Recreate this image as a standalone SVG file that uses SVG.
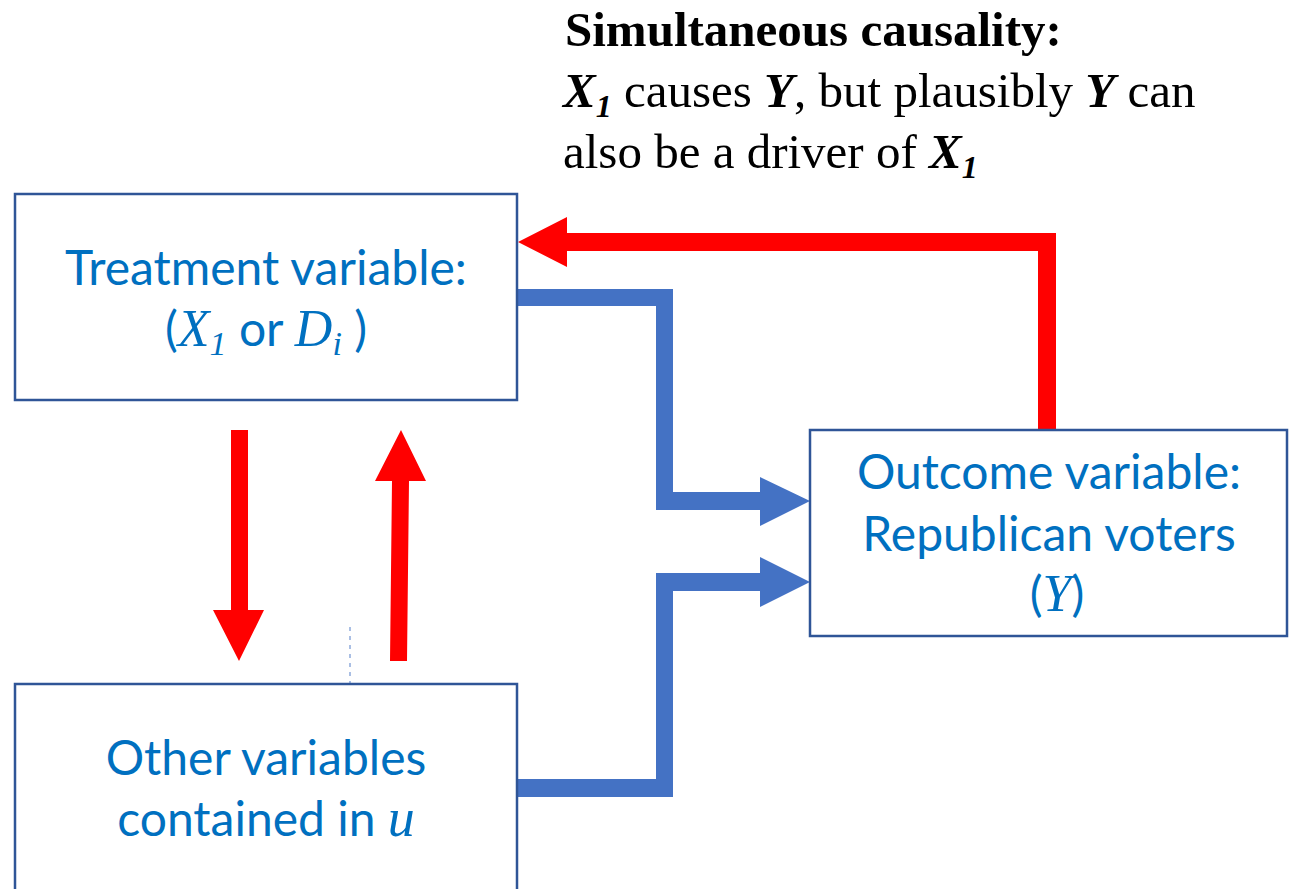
<svg xmlns="http://www.w3.org/2000/svg" width="1290" height="889" viewBox="0 0 1290 889">
  <style>
    .box { fill: #ffffff; stroke: #2F5597; stroke-width: 2.5; }
    .lbl { font-family: Lato, "Liberation Sans", sans-serif; font-size: 48px; fill: #0070C0; text-anchor: middle; }
    .m { font-family: "Liberation Serif", serif; font-style: italic; }
    .note { font-family: "Liberation Serif", serif; font-size: 49px; fill: #000000; }
    .bi { font-weight: bold; font-style: italic; }
    .red { fill: #FF0000; }
    .blue { fill: #4472C4; }
  </style>

  <!-- annotation -->
  <g id="note">
    <text class="note" x="565" y="46" font-weight="bold">Simultaneous causality:</text>
    <text class="note" x="563" y="107"><tspan class="bi">X</tspan><tspan class="bi" font-size="32" dy="10">1</tspan><tspan dy="-10"> causes </tspan><tspan class="bi">Y</tspan>, but plausibly <tspan class="bi">Y</tspan> can</text>
    <text class="note" x="563" y="168">also be a driver of <tspan class="bi">X</tspan><tspan class="bi" font-size="32" dy="10">1</tspan></text>
  </g>

  <!-- connectors -->
  <g id="connectors">
    <!-- Y back to X1 -->
    <polygon class="red" points="1056,430 1038,430 1038,251 567,251 567,267 518,242 567,217 567,233 1056,233"/>
    <!-- X1 to Y -->
    <polygon class="blue" points="517,289 673,289 673,492 760,492 760,477 810,501 760,526 760,510 656,510 656,306 517,306"/>
    <!-- u to Y -->
    <polygon class="blue" points="517,779 656,779 656,573 760,573 760,557 810,582 760,607 760,591 673,591 673,797 517,797"/>
    <!-- X1 to u -->
    <polygon class="red" points="231,430 248,430 248,610 264,610 239,661 213,610 231,610"/>
    <!-- u to X1 -->
    <polygon class="red" points="390,661 407,661 409,481 426,481 401,430 375,481 392,481"/>
    <line x1="350" y1="627" x2="350" y2="684" stroke="#8FAADC" stroke-width="1.5" stroke-dasharray="4,5"/>
  </g>

  <g id="treatment">
    <rect class="box" x="15" y="194" width="502" height="206"/>
    <text class="lbl" x="266" y="285">Treatment variable:</text>
    <text class="lbl" x="266" y="346">(<tspan class="m" font-size="52">X</tspan><tspan class="m" font-size="34" dy="9">1</tspan><tspan dy="-9"> or </tspan><tspan class="m" font-size="52">D</tspan><tspan class="m" font-size="34" dy="9">i</tspan><tspan dy="-9"> )</tspan></text>
  </g>

  <g id="outcome">
    <rect class="box" x="810" y="430" width="477" height="206"/>
    <text class="lbl" x="1049" y="489">Outcome variable:</text>
    <text class="lbl" x="1049" y="551">Republican voters</text>
    <text class="lbl" x="1057" y="611">(<tspan class="m" font-size="52">Y</tspan>)</text>
  </g>

  <g id="other">
    <rect class="box" x="15" y="684" width="502" height="220"/>
    <text class="lbl" x="266" y="775">Other variables</text>
    <text class="lbl" x="266" y="836">contained in <tspan class="m" font-size="54">u</tspan></text>
  </g>
</svg>
